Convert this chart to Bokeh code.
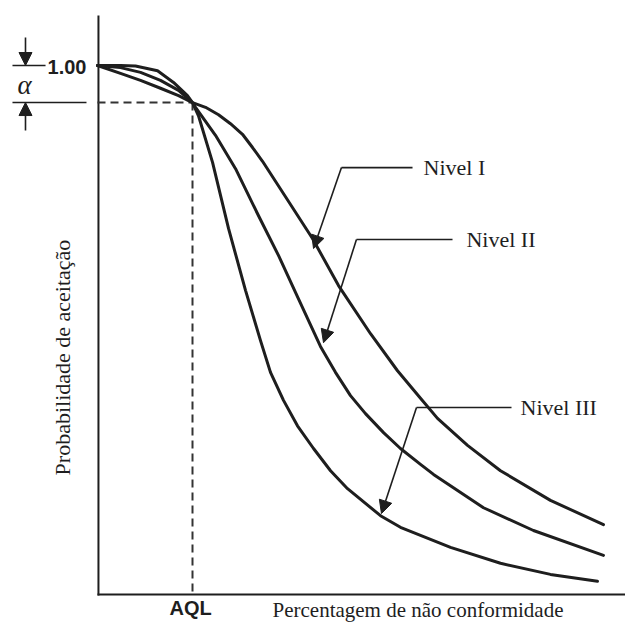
from bokeh.plotting import figure
from bokeh.models import Range1d, Arrow, NormalHead
from bokeh.core.properties import value
from bokeh.embed import file_html
from bokeh.resources import INLINE

# ---- data (x: percentage nonconforming, AQL = 1; y: probability of acceptance) ----
nivel_i_x = [0, 0.242, 0.453, 0.663, 0.853, 1.0, 1.137, 1.274, 1.4, 1.526, 1.632, 1.737,
             1.979, 2.263, 2.537, 2.874, 3.158, 3.4, 3.579, 3.895, 4.242, 4.768, 5.326]
nivel_i_y = [1.0, 0.985, 0.972, 0.957, 0.943, 0.930, 0.921, 0.907, 0.890, 0.870, 0.845, 0.819,
             0.752, 0.673, 0.584, 0.493, 0.423, 0.371, 0.333, 0.282, 0.234, 0.178, 0.132]

nivel_ii_x = [0, 0.242, 0.453, 0.663, 0.853, 1.0, 1.032, 1.242, 1.453, 1.695, 1.905, 2.084,
              2.347, 2.505, 2.663, 2.821, 3.011, 3.189, 3.4, 3.537, 4.063, 4.589, 5.326]
nivel_ii_y = [1.0, 0.996, 0.987, 0.972, 0.953, 0.930, 0.921, 0.868, 0.805, 0.716, 0.641, 0.571,
              0.469, 0.420, 0.376, 0.342, 0.306, 0.276, 0.246, 0.227, 0.164, 0.121, 0.074]

nivel_iii_x = [0, 0.242, 0.4, 0.632, 0.8, 0.947, 1.0, 1.063, 1.211, 1.379, 1.558, 1.716,
               1.821, 1.958, 2.105, 2.274, 2.453, 2.632, 2.979, 3.189, 3.716, 4.242, 4.768, 5.263]
nivel_iii_y = [1.0, 1.0, 0.999, 0.990, 0.968, 0.943, 0.930, 0.905, 0.817, 0.692, 0.575, 0.480,
               0.420, 0.367, 0.319, 0.276, 0.234, 0.200, 0.149, 0.127, 0.089, 0.059, 0.038, 0.025]

aql = 1.0
p_aql = 0.930          # 1 - alpha
series_labels = ["Nivel I", "Nivel II", "Nivel III"]
x_label = "Percentagem de não conformidade"
y_label = "Probabilidade de aceitação"
tick_y_label = "1.00"
tick_x_label = "AQL"
alpha_label = "α"

INK = "#1e1e1e"
SERIF = value("Liberation Serif")
SANS = value("Liberation Sans")

p = figure(width=625, height=623, output_backend="svg", toolbar_location=None,
           x_range=Range1d(-1.0211, 5.5579), y_range=Range1d(-0.0548, 1.1229),
           min_border=0)
p.axis.visible = False
p.grid.visible = False
p.outline_line_color = None
p.background_fill_color = "white"

# axes drawn as lines
p.line([0.01, 0.01], [-0.002, 1.0945], line_color=INK, line_width=2)
p.line([0, 5.7], [0, 0], line_color=INK, line_width=2)

# AQL dashed guides
p.line([0, aql], [p_aql, p_aql], line_color="#333333", line_width=2, line_dash="8 5")
p.line([aql, aql], [p_aql, 0], line_color="#333333", line_width=2, line_dash="8 5")

# OC curves
for xs, ys in [(nivel_i_x, nivel_i_y), (nivel_ii_x, nivel_ii_y), (nivel_iii_x, nivel_iii_y)]:
    p.line(xs, ys, line_color=INK, line_width=3, line_join="round", line_cap="round")

# label arrows: (text x, line right end, corner x, corner y, tip x, tip y)
arrows = [
    (3.432, 3.316, 2.568, 0.807, 2.274, 0.654),
    (3.884, 3.737, 2.726, 0.671, 2.379, 0.476),
    (4.453, 4.358, 3.358, 0.3535, 2.989, 0.153),
]
for (tx, rx, cx, cy, ex, ey), lab in zip(arrows, series_labels):
    p.line([rx, cx], [cy, cy], line_color=INK, line_width=1.6)
    p.add_layout(Arrow(end=NormalHead(size=13, fill_color=INK, line_color=INK),
                       x_start=cx, y_start=cy, x_end=ex, y_end=ey,
                       line_color=INK, line_width=1.6))
    p.text(x=[tx], y=[cy], text=[lab], text_font=SERIF, text_font_size="22px",
           text_baseline="middle", text_align="left", text_color=INK)

# alpha bracket
p.line([-0.895, -0.547], [1.0, 1.0], line_color=INK, line_width=1.6)
p.line([-0.895, -0.116], [p_aql, p_aql], line_color=INK, line_width=1.6)
p.add_layout(Arrow(end=NormalHead(size=13, fill_color=INK, line_color=INK),
                   x_start=-0.758, y_start=1.053, x_end=-0.758, y_end=1.0,
                   line_color=INK, line_width=1.6))
p.add_layout(Arrow(end=NormalHead(size=13, fill_color=INK, line_color=INK),
                   x_start=-0.758, y_start=0.877, x_end=-0.758, y_end=p_aql,
                   line_color=INK, line_width=1.6))
p.text(x=[-0.768], y=[0.963], text=[alpha_label], text_font=SERIF, text_font_size="27px",
       text_font_style="italic", text_baseline="middle", text_align="center", text_color=INK)

# tick texts
p.text(x=[-0.116], y=[0.997], text=[tick_y_label], text_font=SANS, text_font_size="20px",
       text_font_style="bold", text_baseline="middle", text_align="right", text_color=INK)
p.text(x=[aql - 0.02], y=[-0.0246], text=[tick_x_label], text_font=SANS, text_font_size="20px",
       text_font_style="bold", text_baseline="middle", text_align="center", text_color=INK)

# axis titles
p.text(x=[1.842], y=[-0.0302], text=[x_label], text_font=SERIF, text_font_size="21px",
       text_baseline="alphabetic", text_align="left", text_color=INK)
p.text(x=[-0.368], y=[0.448], text=[y_label], text_font=SERIF, text_font_size="22px",
       angle=1.5708, text_baseline="middle", text_align="center", text_color=INK)

open("out.html", "w").write(file_html(p, INLINE))
